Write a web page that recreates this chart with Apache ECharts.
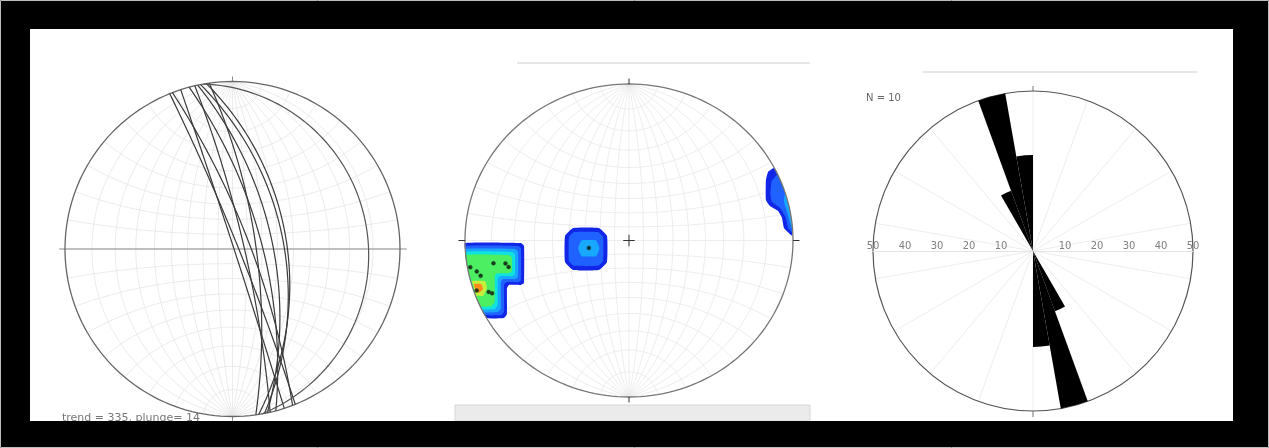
<!DOCTYPE html>
<html>
<head>
<meta charset="utf-8">
<script src="https://cdn.jsdelivr.net/npm/echarts@6.0.0/dist/echarts.min.js"></script>
<style>
  html, body { margin: 0; padding: 0; background: #000; }
  #main { width: 1269px; height: 448px; }
</style>
</head>
<body>
<div id="main"></div>
<script>
// left net: planes, strike / dip (right-hand rule)
const planeStrikes = [338, 339, 342, 345, 347, 348, 349, 351, 352, 350];
const planeDips    = [86, 78, 89, 70, 82, 63, 56, 54, 74, 12];

// middle net: poles, trend / plunge
const poleTrends  = [260, 258, 256, 251, 260, 259, 257, 249, 248, 259];
const polePlunges = [1, 3, 4, 1, 10, 15, 16, 5, 6, 62];

// middle net: density contours (net coords, x east / y north, radius 1)
const densityColors = ['#1226e8', '#1f62ff', '#18a8ff', '#0fe3dc', '#4cee62', '#c4ef3c', '#ff8a1c'];
const densityLevel = [0, 1, 2, 3, 4, 5, 6, 0, 1, 2, 0, 1, 2];
const densityPolys = [
  [[-1.0, -0.016], [-0.659, -0.016], [-0.640, -0.035], [-0.640, -0.272], [-0.659, -0.284], [-0.732, -0.284], [-0.744, -0.304], [-0.744, -0.470], [-0.762, -0.495], [-0.869, -0.495], [-0.91, -0.415], [-0.95, -0.31], [-0.98, -0.19], [-0.995, -0.09]],
  [[-0.999, -0.035], [-0.677, -0.035], [-0.659, -0.05], [-0.659, -0.255], [-0.677, -0.266], [-0.750, -0.266], [-0.762, -0.285], [-0.762, -0.455], [-0.78, -0.476], [-0.879, -0.476], [-0.91, -0.415], [-0.95, -0.31], [-0.98, -0.19], [-0.995, -0.09]],
  [[-0.998, -0.054], [-0.696, -0.054], [-0.677, -0.07], [-0.677, -0.235], [-0.696, -0.247], [-0.769, -0.247], [-0.781, -0.265], [-0.781, -0.435], [-0.80, -0.457], [-0.889, -0.457], [-0.95, -0.31], [-0.98, -0.19], [-0.995, -0.09]],
  [[-0.997, -0.074], [-0.714, -0.074], [-0.696, -0.09], [-0.696, -0.215], [-0.714, -0.228], [-0.787, -0.228], [-0.80, -0.245], [-0.80, -0.41], [-0.82, -0.438], [-0.899, -0.438], [-0.95, -0.31], [-0.98, -0.19]],
  [[-0.996, -0.093], [-0.732, -0.093], [-0.714, -0.11], [-0.714, -0.196], [-0.732, -0.209], [-0.805, -0.209], [-0.818, -0.226], [-0.818, -0.39], [-0.84, -0.42], [-0.908, -0.42], [-0.95, -0.31], [-0.98, -0.19]],
  [[-0.957, -0.259], [-0.878, -0.259], [-0.866, -0.304], [-0.890, -0.355], [-0.933, -0.348], [-0.945, -0.300]],
  [[-0.945, -0.278], [-0.902, -0.278], [-0.890, -0.310], [-0.915, -0.335], [-0.933, -0.323]],
  [[-0.341, 0.080], [-0.183, 0.080], [-0.134, 0.029], [-0.134, -0.137], [-0.183, -0.188], [-0.341, -0.188], [-0.390, -0.137], [-0.390, 0.029]],
  [[-0.335, 0.054], [-0.189, 0.054], [-0.158, 0.023], [-0.158, -0.131], [-0.189, -0.162], [-0.335, -0.162], [-0.366, -0.131], [-0.366, 0.023]],
  [[-0.29, 0.0], [-0.20, 0.0], [-0.18, -0.05], [-0.20, -0.10], [-0.29, -0.10], [-0.31, -0.05]],
  [[0.884, 0.463], [0.848, 0.438], [0.835, 0.387], [0.835, 0.259], [0.860, 0.220], [0.909, 0.188], [0.933, 0.144], [0.945, 0.080], [0.996, 0.03], [0.98, 0.19], [0.95, 0.31], [0.92, 0.39]],
  [[0.905, 0.42], [0.87, 0.38], [0.862, 0.30], [0.87, 0.25], [0.92, 0.21], [0.955, 0.15], [0.97, 0.08], [0.998, 0.05], [0.98, 0.19], [0.95, 0.31], [0.915, 0.40]],
  [[0.95, 0.30], [0.945, 0.25], [0.965, 0.18], [0.985, 0.10], [0.997, 0.07], [0.985, 0.17], [0.955, 0.29]]
];

// right: rose diagram, 10 degree bins, percent
const roseBins = ['0', '10', '20', '30', '40', '50', '60', '70', '80', '90', '100', '110',
  '120', '130', '140', '150', '160', '170', '180', '190', '200', '210', '220', '230',
  '240', '250', '260', '270', '280', '290', '300', '310', '320', '330', '340', '350'];
const roseValues = [0, 0, 0, 0, 0, 0, 0, 0, 0, 0, 0, 0, 0, 0, 0, 20, 50, 30,
  0, 0, 0, 0, 0, 0, 0, 0, 0, 0, 0, 0, 0, 0, 0, 20, 50, 30];
const roseCount = 10;

// equal-angle (Wulff) lower hemisphere projection
const D = Math.PI / 180;
function proj(trend, plunge) {
  const r = Math.tan((90 - plunge) * D / 2);
  return [r * Math.sin(trend * D), r * Math.cos(trend * D)];
}
function vecProj(e, n, d) {
  const len = Math.hypot(e, n, d);
  e /= len; n /= len; d /= len;
  if (d < 0) { e = -e; n = -n; d = -d; }
  return proj(Math.atan2(e, n) / D, Math.asin(Math.min(1, d)) / D);
}
function greatCircle(strike, dip) {
  const dd = strike + 90, pts = [];
  const s = [Math.sin(strike * D), Math.cos(strike * D), 0];
  const v = [Math.sin(dd * D) * Math.cos(dip * D), Math.cos(dd * D) * Math.cos(dip * D), Math.sin(dip * D)];
  for (let a = 0; a <= 180; a += 2) {
    const c = Math.cos(a * D), sn = Math.sin(a * D);
    pts.push(vecProj(c * s[0] + sn * v[0], c * s[1] + sn * v[1], c * s[2] + sn * v[2]));
  }
  return pts;
}
function netLines() {
  const lines = [];
  for (let dip = 10; dip <= 90; dip += 10) {
    lines.push(greatCircle(0, dip));
    if (dip < 90) lines.push(greatCircle(180, dip));
  }
  for (let b = 10; b < 90; b += 10) {
    for (const sgn of [1, -1]) {
      const pts = [];
      for (let f = 0; f <= 180; f += 3) {
        pts.push(vecProj(Math.sin(b * D) * Math.cos(f * D), sgn * Math.cos(b * D), Math.sin(b * D) * Math.sin(f * D)));
      }
      lines.push(pts);
    }
  }
  // E-W diameter is a net line too
  lines.push([[-1, 0], [1, 0]]);
  return lines;
}
const primitive = [];
for (let t = 0; t <= 360; t += 2) primitive.push([Math.sin(t * D), Math.cos(t * D)]);

function polySeries(g, lines, color, width, z) {
  return {
    type: 'custom', xAxisIndex: g, yAxisIndex: g, silent: true, z: z,
    data: lines.map((_, i) => [0, 0, i]),
    renderItem: (params, api) => ({
      type: 'polyline',
      shape: { points: lines[params.dataIndex].map(p => api.coord(p)) },
      style: { stroke: color, lineWidth: width, fill: 'none' }
    })
  };
}

const grid = netLines();
const series = [];

// left net
series.push(polySeries(0, grid, '#e6e6e6', 0.8, 1));
series.push(polySeries(0, [[[-1.035, 0], [1.04, 0]], [[0, 1], [0, 1.03]], [[0, -1], [0, -1.03]]], '#8a8a8a', 1, 2));
series.push(polySeries(0, [primitive], '#666', 1.3, 3));
planeStrikes.forEach((s, i) => {
  series.push({
    type: 'line', xAxisIndex: 0, yAxisIndex: 0, silent: true, z: 5,
    data: greatCircle(s, planeDips[i]), showSymbol: false, symbol: 'none',
    lineStyle: { color: planeDips[i] < 30 ? '#555' : '#3a3a3a', width: 1.2 }
  });
});

// middle net
series.push(polySeries(1, grid, '#e8e8e8', 0.8, 1));
series.push({
  type: 'custom', xAxisIndex: 1, yAxisIndex: 1, silent: true, z: 3,
  data: densityPolys.map((_, i) => [0, 0, i]),
  renderItem: (params, api) => ({
    type: 'polygon',
    shape: { points: densityPolys[params.dataIndex].map(p => api.coord(p)), smooth: 0.12 },
    style: { fill: densityColors[densityLevel[params.dataIndex]] }
  })
});
series.push(polySeries(1, [primitive], '#777', 1.3, 4));
series.push(polySeries(1, [
  [[-0.035, 0], [0.035, 0]], [[0, -0.037], [0, 0.037]],
  [[-1, 0], [-1.04, 0]], [[1, 0], [1.04, 0]], [[0, 1], [0, 1.035]], [[0, -1], [0, -1.035]]
], '#333', 1, 4));
series.push({
  type: 'scatter', xAxisIndex: 1, yAxisIndex: 1, silent: true, z: 6,
  data: poleTrends.map((t, i) => proj(t, polePlunges[i])),
  symbolSize: 4, itemStyle: { color: '#0c0c0c', borderColor: '#1d5a2a', borderWidth: 0.6 }
});

// rose
series.push({
  type: 'bar', coordinateSystem: 'polar', polarIndex: 0,
  data: roseValues, barCategoryGap: '0%', silent: true,
  itemStyle: { color: '#000' }
});

const chart = echarts.init(document.getElementById('main'));
chart.setOption({
  animation: false,
  backgroundColor: '#fff',
  grid: [
    { left: 65, top: 81.5, width: 335, height: 335 },
    { left: 465, top: 84, width: 328, height: 313 },
    { left: 873, top: 250, width: 320, height: 1 }
  ],
  xAxis: [
    { gridIndex: 0, type: 'value', min: -1, max: 1, show: false },
    { gridIndex: 1, type: 'value', min: -1, max: 1, show: false },
    {
      gridIndex: 2, type: 'value', min: -50, max: 50, interval: 10, position: 'bottom',
      axisLine: { show: true, lineStyle: { color: '#e4e4e4' } },
      axisTick: { show: false }, splitLine: { show: false },
      axisLabel: {
        color: '#808080', fontSize: 10, fontFamily: 'DejaVu Sans', margin: -10,
        showMinLabel: true, showMaxLabel: true,
        formatter: v => v === 0 ? '' : String(Math.abs(v))
      }
    }
  ],
  yAxis: [
    { gridIndex: 0, type: 'value', min: -1, max: 1, show: false },
    { gridIndex: 1, type: 'value', min: -1, max: 1, show: false },
    { gridIndex: 2, type: 'value', min: 0, max: 1, show: false }
  ],
  polar: [{ center: [1033, 251], radius: 160 }],
  angleAxis: [{
    polarIndex: 0, type: 'category', data: roseBins, startAngle: 90, clockwise: true,
    axisLine: { lineStyle: { color: '#555', width: 1.2 } },
    axisTick: { show: false }, axisLabel: { show: false },
    splitLine: { show: true, lineStyle: { color: '#eeeeee', width: 1 } }
  }],
  radiusAxis: [{
    polarIndex: 0, type: 'value', min: 0, max: 50,
    axisLine: { show: false }, axisTick: { show: false }, axisLabel: { show: false },
    splitLine: { show: false }
  }],
  graphic: [
    { type: 'rect', shape: { x: 517, y: 62, width: 293, height: 2 }, style: { fill: '#e6e6e6' }, silent: true },
    { type: 'rect', shape: { x: 455, y: 405, width: 355, height: 16 }, style: { fill: '#ebebeb', stroke: '#d8d8d8', lineWidth: 1 }, silent: true },
    { type: 'rect', shape: { x: 923, y: 71, width: 274, height: 2 }, style: { fill: '#e6e6e6' }, silent: true },
    { type: 'line', shape: { x1: 1033, y1: 86, x2: 1033, y2: 91 }, style: { stroke: '#777', lineWidth: 1 }, silent: true },
    { type: 'line', shape: { x1: 1033, y1: 411, x2: 1033, y2: 417 }, style: { stroke: '#777', lineWidth: 1 }, silent: true },
    { type: 'text', left: 866, top: 93, style: { text: 'N = ' + roseCount, fill: '#666', font: '10px "DejaVu Sans"' }, silent: true },
    { type: 'text', left: 62, top: 413, style: { text: 'trend = 335, plunge= 14', fill: '#777', font: '11px "DejaVu Sans"' }, silent: true },
    // black frame
    { type: 'rect', z: 100, shape: { x: 0, y: 0, width: 1269, height: 29 }, style: { fill: '#000' }, silent: true },
    { type: 'rect', z: 100, shape: { x: 0, y: 421, width: 1269, height: 27 }, style: { fill: '#000' }, silent: true },
    { type: 'rect', z: 100, shape: { x: 0, y: 0, width: 30, height: 448 }, style: { fill: '#000' }, silent: true },
    { type: 'rect', z: 100, shape: { x: 1233, y: 0, width: 36, height: 448 }, style: { fill: '#000' }, silent: true },
    { type: 'rect', z: 101, shape: { x: 0.5, y: 0.5, width: 1268, height: 447 }, style: { fill: 'none', stroke: '#bdbdbd', lineWidth: 1 }, silent: true }
  ],
  series: series
});
</script>
</body>
</html>
